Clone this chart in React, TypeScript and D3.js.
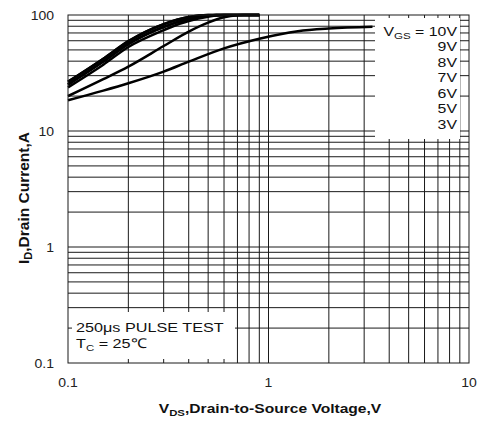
import React from "react";
import * as d3 from "d3";

// ---- Data ----
const X_TICKS = [0.1, 1, 10];
const X_TICK_LABELS = ["0.1", "1", "10"];
const Y_TICKS = [0.1, 1, 10, 100];
const Y_TICK_LABELS = ["0.1", "1", "10", "100"];

const VDS_10V = [0.1, 0.15, 0.2, 0.3, 0.4, 0.5, 0.9];
const ID_10V = [26.6, 42, 59.5, 83.5, 96.3, 100, 100];
const VDS_9V = [0.1, 0.15, 0.2, 0.3, 0.4, 0.5, 0.9];
const ID_9V = [26.5, 41.9, 59.3, 83.3, 96.1, 100, 100];
const VDS_8V = [0.1, 0.15, 0.2, 0.3, 0.4, 0.5, 0.55, 0.9];
const ID_8V = [25.2, 39.8, 56.3, 79, 92.5, 99, 100, 100];
const VDS_7V = [0.1, 0.15, 0.2, 0.3, 0.4, 0.5, 0.55, 0.9];
const ID_7V = [25.1, 39.7, 56.1, 78.8, 92.3, 98.9, 100, 100];
const VDS_6V = [0.1, 0.15, 0.2, 0.3, 0.36, 0.4, 0.5, 0.6, 0.9];
const ID_6V = [23.8, 37.3, 53, 74, 84, 88.8, 96.6, 100, 100];
const VDS_5V = [0.1, 0.15, 0.2, 0.3, 0.4, 0.5, 0.6, 0.7, 0.75, 0.9];
const ID_5V = [20, 28, 35.9, 54, 72, 86, 95.5, 99.5, 100, 100];
const VDS_3V = [0.1, 0.15, 0.2, 0.3, 0.4, 0.6, 0.9, 1.4, 2, 3.3];
const ID_3V = [18.4, 22.3, 25.8, 32.5, 39.6, 51.6, 62.5, 72.5, 76.5, 79.3];

const LEGEND_LABELS = ["10V", "9V", "8V", "7V", "6V", "5V", "3V"];

const SERIES = [
  { x: VDS_10V, y: ID_10V },
  { x: VDS_9V, y: ID_9V },
  { x: VDS_8V, y: ID_8V },
  { x: VDS_7V, y: ID_7V },
  { x: VDS_6V, y: ID_6V },
  { x: VDS_5V, y: ID_5V },
  { x: VDS_3V, y: ID_3V },
];

const W = 480;
const H = 422;
const L = 68;
const R = 469;
const T = 15;
const B = 363;
const FONT = "'Liberation Sans', Arial, Helvetica, sans-serif";

export default function App() {
  const x = d3.scaleLog().domain([0.1, 10]).range([L, R]);
  const y = d3.scaleLog().domain([0.1, 100]).range([B, T]);

  const minorVals = (lo: number, hi: number) => {
    const out: number[] = [];
    for (let dec = lo; dec < hi; dec *= 10) {
      for (let m = 1; m <= 9; m++) out.push(+(dec * m).toPrecision(3));
    }
    return out;
  };
  const xGrid = minorVals(0.1, 10).filter((v) => v > 0.1);
  const yGrid = minorVals(0.1, 100).filter((v) => v > 0.1);

  const line = d3
    .line<[number, number]>()
    .x((d) => x(d[0]))
    .y((d) => y(d[1]))
    .curve(d3.curveMonotoneX);

  return (
    <svg
      width={W}
      height={H}
      viewBox={`0 0 ${W} ${H}`}
      style={{ position: "absolute", left: 0, top: 0, background: "#fff" }}
      fontFamily={FONT}
    >
      <rect x={0} y={0} width={W} height={H} fill="#fff" />
      {/* grid */}
      <g stroke="#1a1a1a" strokeWidth={1}>
        {xGrid.map((v) => (
          <line key={"gx" + v} x1={x(v)} x2={x(v)} y1={T} y2={B} />
        ))}
        {yGrid.map((v) => (
          <line key={"gy" + v} x1={L} x2={R} y1={y(v)} y2={y(v)} />
        ))}
      </g>
      {/* curves */}
      <g fill="none" stroke="#000" strokeWidth={2.5} strokeLinejoin="round">
        {SERIES.map((s, i) => (
          <path
            key={"s" + i}
            d={line(s.x.map((v, j) => [v, s.y[j]] as [number, number])) || ""}
          />
        ))}
      </g>
      {/* boxes that mask grid */}
      <rect x={375} y={18} width={85} height={121} fill="#fff" />
      <rect x={72} y={312} width={163} height={47} fill="#fff" />
      {/* plot border */}
      <rect x={L} y={T} width={R - L} height={B - T} fill="none" stroke="#1a1a1a" strokeWidth={1} />

      {/* legend */}
      <g fontSize={13} fill="#111">
        <text transform={`translate(457,35.5) scale(1.22,1)`} textAnchor="end">
          V<tspan fontSize={9.5} dy={3}>GS</tspan>
          <tspan dy={-3}> = {LEGEND_LABELS[0]}</tspan>
        </text>
        {LEGEND_LABELS.slice(1).map((lab, i) => (
          <text
            key={lab}
            transform={`translate(457,${35.5 + 15.5 * (i + 1)}) scale(1.22,1)`}
            textAnchor="end"
          >
            {lab}
          </text>
        ))}
      </g>

      {/* annotation */}
      <g fontSize={13.5} fill="#111">
        <text transform="translate(76,331.5) scale(1.2,1)">250μs PULSE TEST</text>
        <text transform="translate(76,348) scale(1.2,1)">
          T<tspan fontSize={9.5} dy={3}>C</tspan>
          <tspan dy={-3}> = 25℃</tspan>
        </text>
      </g>

      {/* tick labels */}
      <g fontSize={12.5} fill="#222">
        {X_TICKS.map((v, i) => (
          <text
            key={"xt" + v}
            transform={`translate(${x(v)},387) scale(1.12,1)`}
            textAnchor="middle"
          >
            {X_TICK_LABELS[i]}
          </text>
        ))}
        {Y_TICKS.map((v, i) => (
          <text
            key={"yt" + v}
            transform={`translate(54,${y(v) + 4.5}) scale(1.12,1)`}
            textAnchor="end"
          >
            {Y_TICK_LABELS[i]}
          </text>
        ))}
      </g>

      {/* axis titles */}
      <text
        transform="translate(270,413) scale(1.2,1)"
        textAnchor="middle"
        fontSize={13}
        fontWeight="bold"
        fill="#111"
      >
        V<tspan fontSize={9.5} dy={3}>DS</tspan>
        <tspan dy={-3}>,Drain-to-Source Voltage,V</tspan>
      </text>
      <text
        transform="translate(29,198) rotate(-90)"
        textAnchor="middle"
        fontSize={15.5}
        fontWeight="bold"
        fill="#111"
      >
        I<tspan fontSize={11} dy={3}>D</tspan>
        <tspan dy={-3}>,Drain Current,A</tspan>
      </text>
    </svg>
  );
}
